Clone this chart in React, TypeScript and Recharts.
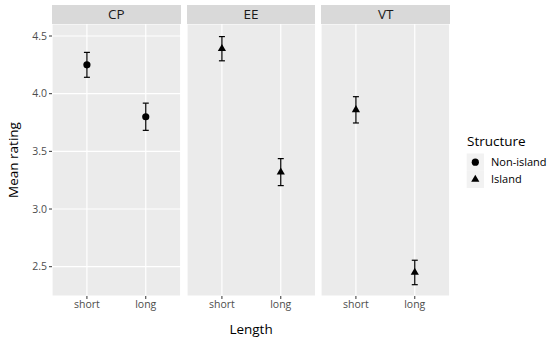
import { ScatterChart, Scatter, XAxis, YAxis, CartesianGrid, ErrorBar } from "recharts";

const FACETS = ["CP", "EE", "VT"];
const LENGTHS = ["short", "long"];
const MEANS = [
  [4.25, 3.8],
  [4.39, 3.32],
  [3.86, 2.45],
];
const ERRORS = [
  [0.108, 0.118],
  [0.105, 0.117],
  [0.114, 0.106],
];
const FACET_STRUCTURE = ["Non-island", "Island", "Island"];
const STRUCTURES = ["Non-island", "Island"];
const Y_TICKS = [2.5, 3, 3.5, 4, 4.5];
const Y_DOMAIN: [number, number] = [2.246, 4.604];

const FONT = "'Open Sans', sans-serif";
const PANEL_LEFT = 52;
const PANEL_W = 128.7;
const PANEL_GAP = 6;
const PLOT_TOP = 24;
const PLOT_BOTTOM = 296;
const AXIS_W = 52;

function Marker({ cx, cy, kind, size = 1 }: { cx: number; cy: number; kind: string; size?: number }) {
  if (cx == null || cy == null) return null;
  if (kind === "Island") {
    const xc = 4.1 * size;
    const r = xc / 0.866;
    const pts = `${cx},${cy - r} ${cx + xc},${cy + r / 2} ${cx - xc},${cy + r / 2}`;
    return <polygon points={pts} fill="#000" />;
  }
  return <circle cx={cx} cy={cy} r={3.6 * size} fill="#000" />;
}

function Panel({ index }: { index: number }) {
  const first = index === 0;
  const data = LENGTHS.map((len, i) => ({
    length: len,
    mean: MEANS[index][i],
    err: ERRORS[index][i],
  }));
  const panelX = PANEL_LEFT + index * (PANEL_W + PANEL_GAP);
  const axisW = first ? AXIS_W : 0;
  const kind = FACET_STRUCTURE[index];
  return (
    <div style={{ position: "absolute", left: panelX - axisW, top: 0 }}>
      <ScatterChart
        width={PANEL_W + axisW}
        height={PLOT_BOTTOM + 30}
        margin={{ top: PLOT_TOP, right: 0, bottom: 0, left: 0 }}
      >
        <CartesianGrid fill="#EBEBEB" fillOpacity={1} stroke="#FFFFFF" strokeWidth={1.2} />
        <XAxis
          dataKey="length"
          type="category"
          height={30}
          padding={{ left: 5.5, right: 5.5 }}
          axisLine={false}
          tickSize={3}
          tickMargin={2}
          tickLine={{ stroke: "#333333" }}
          tick={{ fill: "#4D4D4D", fontSize: 10.5, fontFamily: FONT }}
        />
        <YAxis
          dataKey="mean"
          type="number"
          domain={Y_DOMAIN}
          ticks={Y_TICKS}
          allowDataOverflow
          width={axisW}
          axisLine={false}
          tickSize={first ? 3 : 0}
          tickMargin={2}
          tickLine={first ? { stroke: "#333333" } : false}
          tick={first ? { fill: "#4D4D4D", fontSize: 10.5, fontFamily: FONT } : false}
          tickFormatter={(v: number) => v.toFixed(1)}
        />
        <Scatter
          data={data}
          dataKey="mean"
          isAnimationActive={false}
          shape={(p: any) => <Marker cx={p.cx} cy={p.cy} kind={kind} />}
        >
          <ErrorBar dataKey="err" direction="y" width={3} stroke="#000" strokeWidth={1.2} />
        </Scatter>
      </ScatterChart>
      <div
        style={{
          position: "absolute",
          left: axisW,
          top: 5,
          width: PANEL_W,
          height: PLOT_TOP - 5,
          background: "#D9D9D9",
          color: "#1A1A1A",
          fontFamily: FONT,
          fontSize: 13.5,
          lineHeight: `${PLOT_TOP - 5}px`,
          textAlign: "center",
        }}
      >
        {FACETS[index]}
      </div>
    </div>
  );
}

export default function App() {
  const plotRight = PANEL_LEFT + 3 * PANEL_W + 2 * PANEL_GAP;
  return (
    <div
      style={{
        position: "absolute",
        left: 0,
        top: 0,
        width: 550,
        height: 345,
        background: "#FFFFFF",
        fontFamily: FONT,
      }}
    >
      {FACETS.map((f, i) => (
        <Panel key={f} index={i} />
      ))}
      <svg width={550} height={345} style={{ position: "absolute", left: 0, top: 0, pointerEvents: "none" }}>
        <text
          x={0}
          y={0}
          transform={`translate(18, ${(PLOT_TOP + PLOT_BOTTOM) / 2}) rotate(-90)`}
          textAnchor="middle"
          fontSize={13.5}
          fontFamily={FONT}
          fill="#000"
        >
          Mean rating
        </text>
        <text
          x={(PANEL_LEFT + plotRight) / 2}
          y={334}
          textAnchor="middle"
          fontSize={13.5}
          fontFamily={FONT}
          fill="#000"
        >
          Length
        </text>
        <text x={467} y={146} fontSize={13.5} fontFamily={FONT} fill="#000">
          Structure
        </text>
        {STRUCTURES.map((s, i) => {
          const top = 153.5 + i * 17.28;
          return (
            <g key={s}>
              <rect x={466.7} y={top} width={17.28} height={17.28} fill="#F2F2F2" />
              <Marker cx={475.3} cy={top + 8.64} kind={s} />
              <text x={491} y={top + 12.3} fontSize={11} fontFamily={FONT} fill="#000">
                {s}
              </text>
            </g>
          );
        })}
      </svg>
    </div>
  );
}
